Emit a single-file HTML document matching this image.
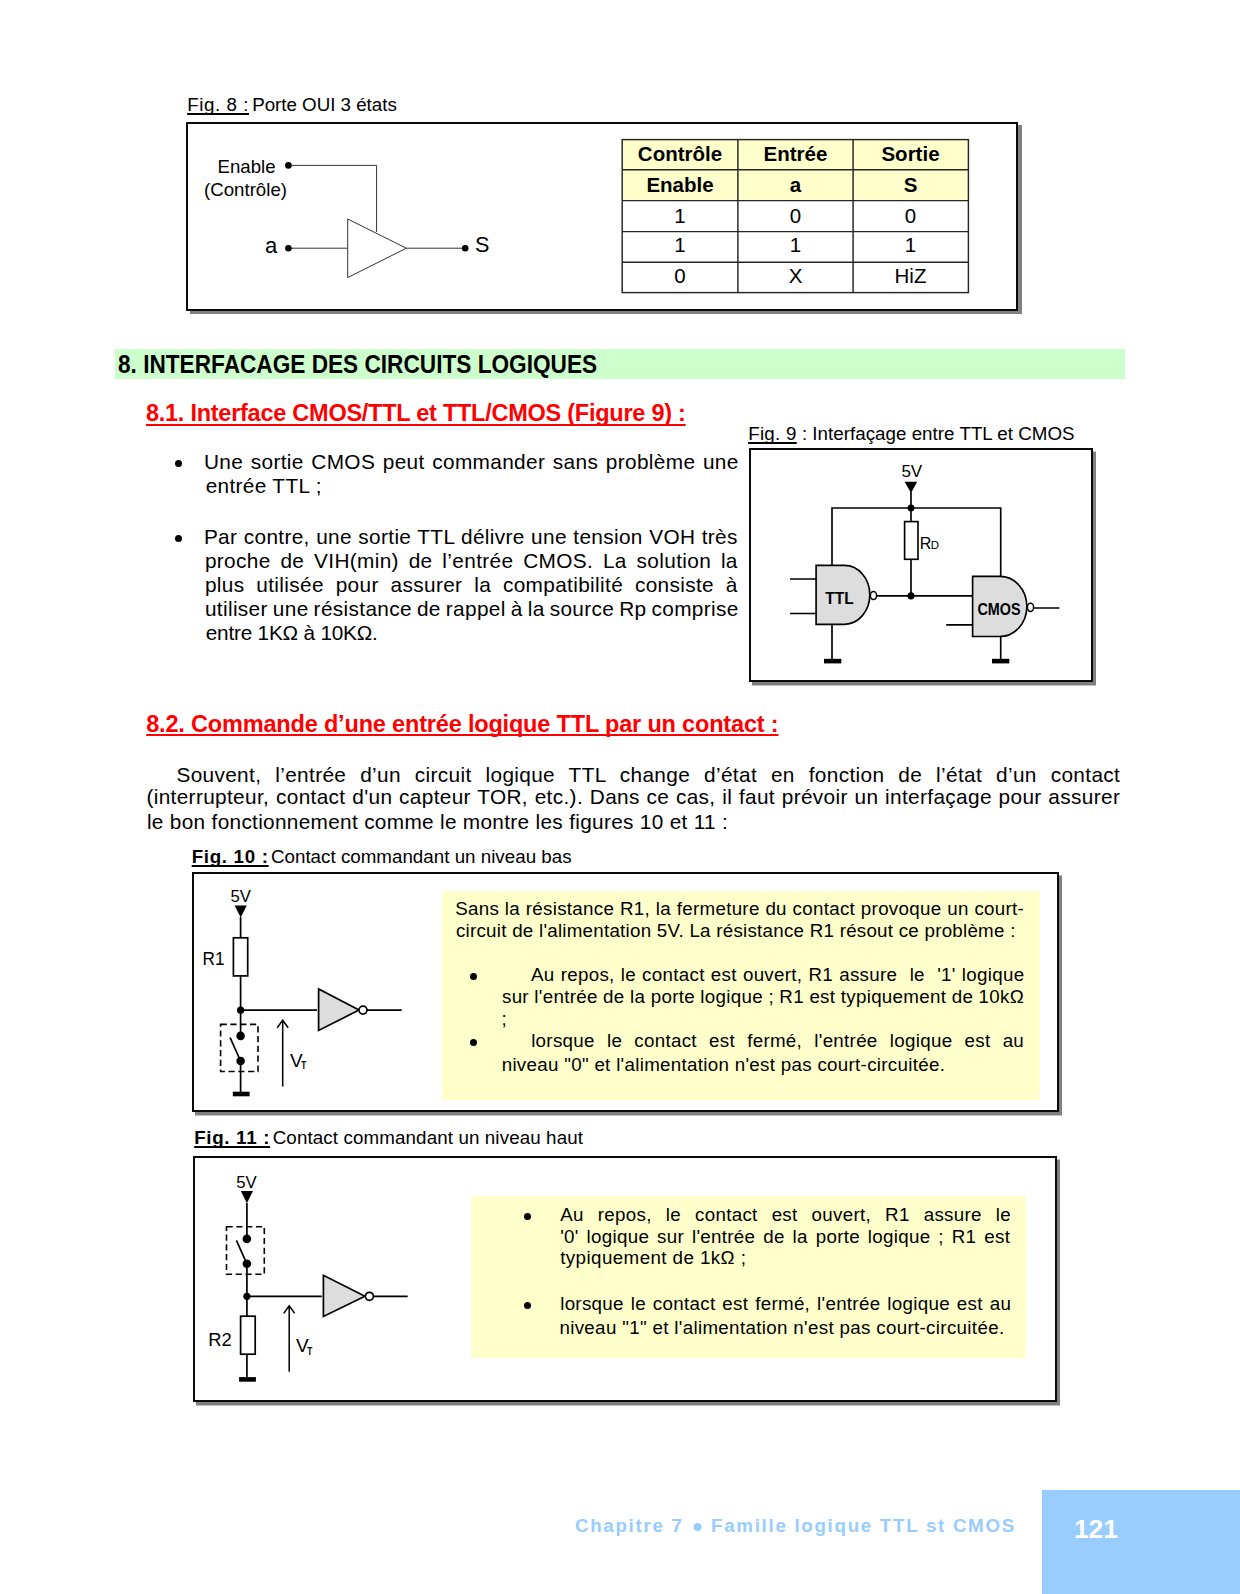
<!DOCTYPE html><html lang="fr"><head><meta charset="utf-8"><title>Chapitre 7 - Famille logique TTL et CMOS</title><style>

html,body{margin:0;padding:0;background:#fff;}
body{width:1240px;height:1594px;position:relative;overflow:hidden;font-family:"Liberation Sans", Arial, sans-serif;color:#000;}
.t{position:absolute;white-space:pre;line-height:1;margin:0;padding:0;}
.u,.u2{text-decoration:underline;text-decoration-thickness:1.7px;text-underline-offset:2.4px;text-decoration-skip-ink:none;}
.u2{text-decoration-thickness:2px;text-underline-offset:2.6px;}
.u3{text-underline-offset:1.6px;}
.bl{font-size:1.5em;line-height:0;position:relative;top:4px;margin-left:2px;}
.b{font-weight:bold;}
.box{position:absolute;box-sizing:border-box;border:2px solid #0a0a0a;background:#fff;box-shadow:3px 3.5px 0 #808080;}
.y{position:absolute;background:#ffffcc;}
.dot{position:absolute;border-radius:50%;background:#000;}
svg{position:absolute;left:0;top:0;overflow:visible;}
svg text{font-family:"Liberation Sans", Arial, sans-serif;}

</style></head><body>
<div class="box" style="left:186px;top:122px;width:832px;height:189px;box-shadow:4px 3px 0 #808080"></div>
<div class="box" style="left:749px;top:448.3px;width:344px;height:234.1px;"></div>
<div class="box" style="left:192.4px;top:872.3px;width:866.6px;height:239.5px;"></div>
<div class="box" style="left:193.2px;top:1155.8px;width:863.8px;height:246px;"></div>
<div class="y" style="left:115px;top:349.2px;width:1010px;height:29.5px;background:#ccffcc"></div>
<div class="y" style="left:442px;top:890.5px;width:598px;height:209.5px"></div>
<div class="y" style="left:471px;top:1195.5px;width:555px;height:162px"></div>
<div class="y" style="left:1042px;top:1490px;width:198px;height:104px;background:#99ccff"></div>
<div class="y" style="left:622px;top:139.5px;width:346px;height:61px"></div>
<svg width="1240" height="1594" viewBox="0 0 1240 1594">
<!-- table grid -->
<g stroke="#262626" stroke-width="1.45" fill="none">
<rect x="622.2" y="139.6" width="346.2" height="153"/>
<path d="M622 169.7H968M622 200.6H968M622 231.6H968M622 262.3H968M737.9 139.5V292.6M853.1 139.5V292.6"/>
</g>
<!-- Fig 8 diagram -->
<g stroke="#333" stroke-width="1" fill="none">
<path d="M288.4 165.4H376.6V232"/>
<path d="M288.4 248.2H347.7M406.3 248.2H465.2"/>
<path d="M347.7 219V277.6L406.3 248.2Z" fill="#fff"/>
</g>
<g fill="#000"><circle cx="288.4" cy="165.4" r="3.3"/><circle cx="288.4" cy="248.2" r="3.3"/><circle cx="465.2" cy="248.2" r="3.3"/></g>
<g font-size="18.5" fill="#000">
<text x="217.5" y="172.6" textLength="58" lengthAdjust="spacingAndGlyphs">Enable</text>
<text x="204" y="196.3" textLength="83" lengthAdjust="spacingAndGlyphs">(Contrôle)</text>
<text x="264.9" y="252.5" font-size="22">a</text>
<text x="474.9" y="252.3" font-size="21.7">S</text>
</g>
<!-- Fig 9 diagram -->
<g stroke="#000" stroke-width="1.65" fill="none">
<path d="M911 492V521.6M911 559.3V595.8"/>
<path d="M832 565V508H1000.7V576"/>
<rect x="904.6" y="521.6" width="13.4" height="37.7" fill="#fff"/>
<path d="M877 595.8H972.3"/>
<path d="M790 579H816M790 613.5H816M946.2 624.8H972.3M1033.8 608H1059.4"/>
<path d="M832 624V661M1000.7 636V661"/>
<path d="M816.1 565.3H844.5A25.3 29.5 0 0 1 844.5 624.3H816.1Z" fill="#ddd"/>
<path d="M972.6 576.4H1000A26.8 30 0 0 1 1000 636.5H972.6Z" fill="#ddd"/>
<ellipse cx="873.5" cy="595.6" rx="3.1" ry="4" fill="#fff" stroke-width="1.5"/>
<ellipse cx="1030.5" cy="607.3" rx="3.1" ry="4.1" fill="#fff" stroke-width="1.5"/>
</g>
<g fill="#000">
<path d="M904.6 481.8H917.2L911 493Z"/>
<circle cx="911" cy="508" r="3.4"/><circle cx="911" cy="595.8" r="3.6"/>
<rect x="824" y="658.8" width="17.3" height="4.6"/><rect x="992" y="658.8" width="17.3" height="4.6"/>
</g>
<g fill="#000">
<text x="901.4" y="476.6" font-size="16" textLength="20.8" lengthAdjust="spacingAndGlyphs">5V</text>
<text x="919.8" y="549.4" font-size="16">R<tspan font-size="11.5" dx="-0.5">D</tspan></text>
<text x="825.3" y="604" font-size="16.2" font-weight="bold" textLength="28.5" lengthAdjust="spacingAndGlyphs">TTL</text>
<text x="977.4" y="615" font-size="16.5" font-weight="bold" textLength="43.2" lengthAdjust="spacingAndGlyphs">CMOS</text>
</g>
<!-- Fig 10 diagram -->
<g stroke="#000" stroke-width="1.7" fill="none">
<path d="M240.6 917V937.8M240.6 975.9V1036M240.6 1061V1093"/>
<rect x="233.4" y="937.8" width="14.3" height="38.1" fill="#fff"/>
<path d="M240.6 1010.2H317M367 1010.2H401.6"/>
<path d="M318.6 988.9V1030.4L359 1010.1Z" fill="#ddd"/>
<circle cx="363" cy="1010.1" r="4" fill="#fff"/>
<rect x="220.6" y="1024.4" width="37.4" height="47.1" stroke-dasharray="6.2 3.6" stroke-width="1.6"/>
<path d="M230.1 1037.6L240.6 1061"/>
<path d="M282.7 1086.6V1020.6M277.2 1027.8L282.7 1020.2L288.2 1027.8" stroke-width="1.5"/>
</g>
<g fill="#000">
<path d="M234.6 905.5H246.8L240.7 917.6Z"/>
<circle cx="240.6" cy="1010.2" r="3.6"/><circle cx="240.6" cy="1035.9" r="4.3"/><circle cx="240.6" cy="1061" r="4.3"/>
<rect x="232.8" y="1091.7" width="16.8" height="4.6"/>
<text x="230.4" y="901.7" font-size="16" textLength="20.5" lengthAdjust="spacingAndGlyphs">5V</text>
<text x="202.6" y="965.2" font-size="19" textLength="22" lengthAdjust="spacingAndGlyphs">R1</text>
<text x="290" y="1066.7" font-size="19">V<tspan font-size="10.5" dy="2.7" dx="-1.4" font-weight="bold" textLength="5" lengthAdjust="spacingAndGlyphs">T</tspan></text>
</g>
<!-- Fig 11 diagram -->
<g stroke="#000" stroke-width="1.7" fill="none">
<path d="M246.9 1203V1239M246.9 1263.8V1316.2M246.9 1354.2V1378"/>
<rect x="240.6" y="1316.2" width="14.6" height="38" fill="#fff"/>
<path d="M246.9 1296.3H321.8M373 1296.3H407.7"/>
<path d="M323.4 1275.3V1316.4L364.9 1296.3Z" fill="#ddd"/>
<circle cx="369.4" cy="1296.3" r="4" fill="#fff"/>
<rect x="226.5" y="1226.7" width="37.8" height="47.6" stroke-dasharray="6.2 3.6" stroke-width="1.6"/>
<path d="M236.4 1240.3L246.9 1263.8"/>
<path d="M289.2 1371.8V1306.2M283.7 1313.4L289.2 1305.8L294.7 1313.4" stroke-width="1.5"/>
</g>
<g fill="#000">
<path d="M240.8 1191H253L246.9 1203.2Z"/>
<circle cx="246.9" cy="1296.3" r="3.6"/><circle cx="246.9" cy="1238.9" r="4.3"/><circle cx="246.9" cy="1263.8" r="4.3"/>
<rect x="239.1" y="1377.1" width="16.8" height="4.6"/>
<text x="236.2" y="1187.5" font-size="16" textLength="20.5" lengthAdjust="spacingAndGlyphs">5V</text>
<text x="208.3" y="1345.8" font-size="19" textLength="23.5" lengthAdjust="spacingAndGlyphs">R2</text>
<text x="296" y="1352.1" font-size="19">V<tspan font-size="10.5" dy="2.7" dx="-1.4" font-weight="bold" textLength="5" lengthAdjust="spacingAndGlyphs">T</tspan></text>
</g>
</svg>

<div class="dot" style="left:174.8px;top:459.8px;width:7.2px;height:7.2px"></div>
<div class="dot" style="left:174.8px;top:534.6px;width:7.2px;height:7.2px"></div>
<div class="dot" style="left:469.7px;top:973.3px;width:7px;height:7px"></div>
<div class="dot" style="left:469.8px;top:1039.3px;width:7px;height:7px"></div>
<div class="dot" style="left:523.6px;top:1212.6px;width:7px;height:7px"></div>
<div class="dot" style="left:523.6px;top:1302.4px;width:7px;height:7px"></div>
<div class="t" id="l0" style="left:187.14px;top:95.53px;font-size:18.75px;letter-spacing:0.569px;"><span class="u">Fig. 8 :</span></div>
<div class="t" id="l1" style="left:252.16px;top:95.53px;font-size:18.75px;letter-spacing:-0.016px;">Porte OUI 3 états</div>
<div class="t" id="l2" style="left:118.44px;top:352.24px;font-size:25px;font-weight:bold;transform:scaleX(0.9053);transform-origin:0 0;">8. INTERFACAGE DES CIRCUITS LOGIQUES</div>
<div class="t" id="l3" style="left:145.94px;top:401.51px;font-size:23.5px;font-weight:bold;color:#f00;letter-spacing:-0.254px;"><span class="u2">8.1. Interface CMOS/TTL et TTL/CMOS (Figure 9) :</span></div>
<div class="t" id="l4" style="left:748.16px;top:424.53px;font-size:18.75px;letter-spacing:0.279px;"><span class="u">Fig. 9</span></div>
<div class="t" id="l5" style="left:801.92px;top:424.53px;font-size:18.75px;letter-spacing:0.023px;">: Interfaçage entre TTL et CMOS</div>
<div class="t" id="l6" style="left:203.90px;top:451.79px;font-size:20.8px;letter-spacing:0.350px;word-spacing:1.507px;">Une sortie CMOS peut commander sans problème une</div>
<div class="t" id="l7" style="left:205.70px;top:475.79px;font-size:20.8px;letter-spacing:0.328px;">entrée TTL ;</div>
<div class="t" id="l8" style="left:203.90px;top:526.79px;font-size:20.8px;letter-spacing:0.350px;word-spacing:0.284px;">Par contre, une sortie TTL délivre une tension VOH très</div>
<div class="t" id="l9" style="left:204.90px;top:550.79px;font-size:20.8px;letter-spacing:0.350px;word-spacing:3.694px;">proche de VIH(min) de l’entrée CMOS. La solution la</div>
<div class="t" id="l10" style="left:204.90px;top:574.79px;font-size:20.8px;letter-spacing:0.350px;word-spacing:5.721px;">plus utilisée pour assurer la compatibilité consiste à</div>
<div class="t" id="l11" style="left:204.90px;top:598.79px;font-size:20.8px;letter-spacing:0.350px;word-spacing:-1.090px;">utiliser une résistance de rappel à la source Rp comprise</div>
<div class="t" id="l12" style="left:205.70px;top:622.79px;font-size:20.8px;letter-spacing:-0.216px;">entre 1KΩ à 10KΩ.</div>
<div class="t" id="l13" style="left:146.20px;top:712.51px;font-size:23.5px;font-weight:bold;color:#f00;letter-spacing:-0.177px;"><span class="u2 u3">8.2. Commande d’une entrée logique TTL par un contact :</span></div>
<div class="t" id="l14" style="left:176.42px;top:764.79px;font-size:20.8px;letter-spacing:0.350px;word-spacing:7.806px;">Souvent, l’entrée d’un circuit logique TTL change d’état en fonction de l’état d’un contact</div>
<div class="t" id="l15" style="left:146.42px;top:786.79px;font-size:20.8px;letter-spacing:0.350px;word-spacing:0.626px;">(interrupteur, contact d'un capteur TOR, etc.). Dans ce cas, il faut prévoir un interfaçage pour assurer</div>
<div class="t" id="l16" style="left:146.94px;top:811.79px;font-size:20.8px;letter-spacing:0.309px;">le bon fonctionnement comme le montre les figures 10 et 11 :</div>
<div class="t" id="l17" style="left:191.68px;top:847.53px;font-size:18.75px;letter-spacing:0.677px;"><span class="u b">Fig. 10 :</span></div>
<div class="t" id="l18" style="left:270.96px;top:847.53px;font-size:18.75px;letter-spacing:0.014px;">Contact commandant un niveau bas</div>
<div class="t" id="l19" style="left:455.16px;top:899.53px;font-size:18.75px;letter-spacing:0.300px;word-spacing:0.229px;">Sans la résistance R1, la fermeture du contact provoque un court-</div>
<div class="t" id="l20" style="left:455.96px;top:921.53px;font-size:18.75px;letter-spacing:0.252px;">circuit de l'alimentation 5V. La résistance R1 résout ce problème :</div>
<div class="t" id="l21" style="left:530.98px;top:965.53px;font-size:18.75px;letter-spacing:0.300px;word-spacing:0.656px;">Au repos, le contact est ouvert, R1 assure  le  '1' logique</div>
<div class="t" id="l22" style="left:501.96px;top:987.53px;font-size:18.75px;letter-spacing:0.300px;word-spacing:-0.054px;">sur l'entrée de la porte logique ; R1 est typiquement de 10kΩ</div>
<div class="t" id="l23" style="left:501.6px;top:1009.53px;font-size:18.75px;">;</div>
<div class="t" id="l24" style="left:531.16px;top:1031.53px;font-size:18.75px;letter-spacing:0.300px;word-spacing:6.679px;">lorsque le contact est fermé, l'entrée logique est au</div>
<div class="t" id="l25" style="left:501.68px;top:1055.53px;font-size:18.75px;letter-spacing:0.301px;">niveau "0" et l'alimentation n'est pas court-circuitée.</div>
<div class="t" id="l26" style="left:194.20px;top:1128.53px;font-size:18.75px;letter-spacing:0.679px;"><span class="u b">Fig. 11 :</span></div>
<div class="t" id="l27" style="left:272.70px;top:1128.53px;font-size:18.75px;letter-spacing:0.120px;">Contact commandant un niveau haut</div>
<div class="t" id="l28" style="left:560.22px;top:1205.53px;font-size:18.75px;letter-spacing:0.300px;word-spacing:8.548px;">Au repos, le contact est ouvert, R1 assure le</div>
<div class="t" id="l29" style="left:560.20px;top:1227.53px;font-size:18.75px;letter-spacing:0.300px;word-spacing:2.413px;">'0' logique sur l'entrée de la porte logique ; R1 est</div>
<div class="t" id="l30" style="left:560.20px;top:1248.53px;font-size:18.75px;letter-spacing:0.422px;">typiquement de 1kΩ ;</div>
<div class="t" id="l31" style="left:560.18px;top:1294.53px;font-size:18.75px;letter-spacing:0.300px;word-spacing:1.429px;">lorsque le contact est fermé, l'entrée logique est au</div>
<div class="t" id="l32" style="left:559.42px;top:1318.53px;font-size:18.75px;letter-spacing:0.329px;">niveau "1" et l'alimentation n'est pas court-circuitée.</div>
<div class="t" id="l33" style="left:574.96px;top:1516.53px;font-size:18.75px;font-weight:bold;color:#99ccff;letter-spacing:1.699px;">Chapitre 7 <span class="bl">•</span> Famille logique TTL st CMOS</div>
<div class="t" id="l34" style="left:1073.90px;top:1516.05px;font-size:26.4px;font-weight:bold;color:#fff;letter-spacing:-0.016px;">121</div>
<div class="t" style="left:622px;top:144.05px;width:116px;text-align:center;font-size:20.5px;font-weight:bold;">Contrôle</div>
<div class="t" style="left:737.5px;top:144.05px;width:116px;text-align:center;font-size:20.5px;font-weight:bold;">Entrée</div>
<div class="t" style="left:852.5px;top:144.05px;width:116px;text-align:center;font-size:20.5px;font-weight:bold;">Sortie</div>
<div class="t" style="left:622px;top:175.05px;width:116px;text-align:center;font-size:20.5px;font-weight:bold;">Enable</div>
<div class="t" style="left:737.5px;top:175.05px;width:116px;text-align:center;font-size:20.5px;font-weight:bold;">a</div>
<div class="t" style="left:852.5px;top:175.05px;width:116px;text-align:center;font-size:20.5px;font-weight:bold;">S</div>
<div class="t" style="left:622px;top:206.05px;width:116px;text-align:center;font-size:20.5px;">1</div>
<div class="t" style="left:737.5px;top:206.05px;width:116px;text-align:center;font-size:20.5px;">0</div>
<div class="t" style="left:852.5px;top:206.05px;width:116px;text-align:center;font-size:20.5px;">0</div>
<div class="t" style="left:622px;top:235.05px;width:116px;text-align:center;font-size:20.5px;">1</div>
<div class="t" style="left:737.5px;top:235.05px;width:116px;text-align:center;font-size:20.5px;">1</div>
<div class="t" style="left:852.5px;top:235.05px;width:116px;text-align:center;font-size:20.5px;">1</div>
<div class="t" style="left:622px;top:266.05px;width:116px;text-align:center;font-size:20.5px;">0</div>
<div class="t" style="left:737.5px;top:266.05px;width:116px;text-align:center;font-size:20.5px;">X</div>
<div class="t" style="left:852.5px;top:266.05px;width:116px;text-align:center;font-size:20.5px;">HiZ</div>
</body></html>
